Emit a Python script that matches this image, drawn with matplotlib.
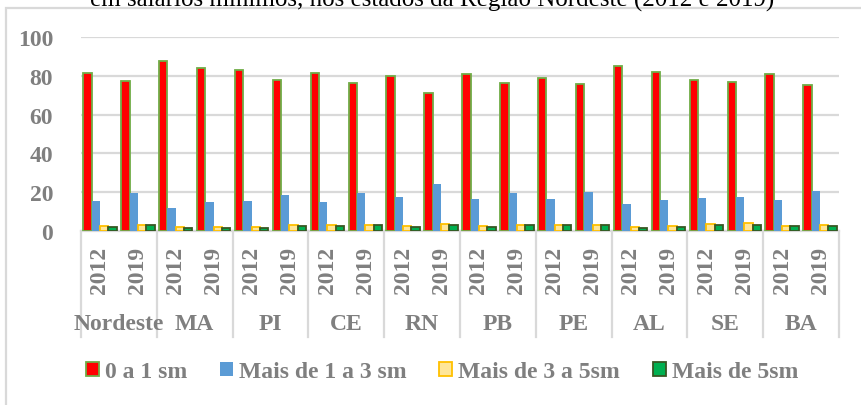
import matplotlib.pyplot as plt
import numpy as np
from matplotlib.patches import Rectangle
from matplotlib.transforms import blended_transform_factory

regions = ["Nordeste", "MA", "PI", "CE", "RN", "PB", "PE", "AL", "SE", "BA"]
years = ["2012", "2019"]
series_names = ["0 a 1 sm", "Mais de 1 a 3 sm", "Mais de 3 a 5sm", "Mais de 5sm"]

# valores na ordem: Nordeste 2012, Nordeste 2019, MA 2012, MA 2019, ...
ate_1sm = [81.4, 77.2, 87.6, 84.2, 83.0, 78.0, 81.4, 76.3, 79.7, 71.3,
           81.1, 76.3, 79.0, 75.8, 84.9, 82.0, 78.0, 76.8, 80.7, 75.4]
de_1_a_3 = [15.5, 19.4, 11.7, 14.8, 15.3, 18.6, 15.1, 19.8, 17.7, 24.0,
            16.5, 19.8, 16.5, 20.1, 13.7, 16.2, 16.8, 17.7, 16.2, 20.8]
de_3_a_5 = [2.7, 3.1, 1.9, 1.9, 2.2, 3.1, 3.2, 3.1, 2.6, 3.8,
            2.4, 3.3, 3.1, 3.1, 1.9, 2.4, 3.8, 4.0, 2.6, 2.9]
mais_5 = [2.2, 2.9, 1.4, 1.4, 1.6, 2.6, 2.4, 3.1, 2.2, 3.3,
          2.2, 2.9, 3.3, 3.1, 1.4, 1.9, 3.1, 3.3, 2.7, 2.6]

fills = ["#FF0000", "#5B9BD5", "#FFE699", "#00B050"]
edges = ["#70AD47", "#5B9BD5", "#FFC000", "#385723"]
gray = "#7F7F7F"
grid = "#D9D9D9"

plt.rcParams["font.family"] = ["Liberation Serif", "DejaVu Serif"]

fig = plt.figure(figsize=(8.61, 4.06), dpi=100)
ax = fig.add_axes([81 / 861, 1 - 232 / 406, 758 / 861, 194 / 406])

x = np.arange(len(ate_1sm))
w = 0.22
data = [ate_1sm, de_1_a_3, de_3_a_5, mais_5]
handles = []
for i, vals in enumerate(data):
    bars = ax.bar(x + (i - 1.5) * w, vals, w, color=fills[i], edgecolor=edges[i],
                  linewidth=1.3 if i != 1 else 0.0, zorder=3, label=series_names[i])
    handles.append(bars)

ax.set_xlim(-0.5, len(x) - 0.5)
ax.set_ylim(0, 100)
ax.set_yticks(range(0, 101, 20))
ax.tick_params(axis="y", length=0, pad=20, labelsize=17, labelcolor=gray)
for t in ax.get_yticklabels():
    t.set_fontweight("bold")
ax.set_xticks([])
ax.grid(axis="y", color=grid, linewidth=1.6, zorder=0)
for s in ["top", "right", "left"]:
    ax.spines[s].set_visible(False)
ax.spines["bottom"].set_color(grid)
ax.spines["bottom"].set_linewidth(1.6)

# rotulos do eixo em dois niveis
tr = blended_transform_factory(ax.transData, ax.transAxes)
for k in x:
    ax.text(k, -0.196, years[k % 2], transform=tr, rotation=90, ha="center", va="center",
            fontsize=17, fontweight="bold", color=gray)
for j, reg in enumerate(regions):
    ax.text(2 * j + 0.5, -0.475, reg, transform=tr, ha="center", va="center",
            fontsize=17, fontweight="bold", color=gray)
for j in range(len(regions) + 1):
    ax.plot([2 * j - 0.5, 2 * j - 0.5], [0, -0.546], transform=tr, color=grid,
            linewidth=1.6, clip_on=False)

# moldura do grafico e titulo cortado (como na imagem original)
fig.patches.append(Rectangle((6 / 861, -0.05), 1.2, 1 - 9 / 406 + 0.05,
                             transform=fig.transFigure, fill=False,
                             edgecolor=grid, linewidth=1.6))
fig.text(432 / 861, 1 - 6.5 / 406,
         "em salários mínimos, nos estados da Região Nordeste (2012 e 2019)",
         ha="center", va="baseline", fontsize=18, color="black")

fig.legend(handles=handles, loc="center", bbox_to_anchor=(442 / 861, 1 - 373 / 406),
           ncol=4, frameon=False, prop={"size": 17, "weight": "bold"},
           labelcolor=gray, handlelength=0.55, handleheight=0.55,
           handletextpad=0.25, columnspacing=1.4)

fig.savefig("out.png", dpi=100)
